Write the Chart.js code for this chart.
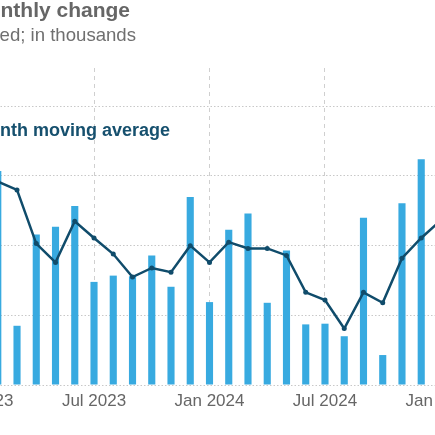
<!DOCTYPE html>
<html>
<head>
<meta charset="utf-8">
<script src="https://cdn.jsdelivr.net/npm/chart.js@4.4.1/dist/chart.umd.min.js"></script>
<style>
  html, body { margin:0; padding:0; background:#fff; overflow:hidden; width:435px; height:435px; }
  #wrap { position:absolute; left:-70px; top:0; width:580px; height:435px; }
  .txt { position:absolute; white-space:nowrap; font-family:"Liberation Sans", Arial, sans-serif; transform:translateX(-100%); }
  #title { left:130px; top:-1px; font-size:21px; line-height:21px; font-weight:bold; color:#666; }
  #subtitle { left:136px; top:26px; font-size:18.6px; line-height:18.6px; color:#6f6f6f; }
  #legend { left:170px; top:121px; font-size:18px; line-height:18px; font-weight:bold; color:#16506e; }
</style>
</head>
<body>
<div id="wrap"><canvas id="c" width="580" height="435" style="width:580px;height:435px"></canvas></div>
<div class="txt" id="title">Payrolls: monthly change</div>
<div class="txt" id="subtitle">Seasonally adjusted; in thousands</div>
<div class="txt" id="legend">3-month moving average</div>
<script>
const months = ["Jan 2023","Feb 2023","Mar 2023","Apr 2023","May 2023","Jun 2023","Jul 2023","Aug 2023","Sep 2023","Oct 2023","Nov 2023","Dec 2023",
                "Jan 2024","Feb 2024","Mar 2024","Apr 2024","May 2024","Jun 2024","Jul 2024","Aug 2024","Sep 2024","Oct 2024","Nov 2024","Dec 2024",
                "Jan 2025"];
const monthlyChange = [448,307,85,216,227,257,148,157,156,186,141,270,
                       119,223,246,118,193,87,88,70,240,43,261,324,
                       123];
const movingAverage = [290,292,280,203,176,235,211,188,155,168,162,200,
                       176,205,196,196,186,133,122,81,133,118,182,211,
                       236];
const yTicks = [0,100,200,300,400];
const shownLabels = ["Jan","Jul"];

const isShown = (lbl) => shownLabels.some(p => lbl.startsWith(p));

const chart = new Chart(document.getElementById('c'), {
  data: {
    labels: months,
    datasets: [
      { type:'line', label:'3-month moving average', data: movingAverage, order:0,
        borderColor:'#104c6b', backgroundColor:'#104c6b', borderWidth:2.5,
        pointRadius:2.5, pointHoverRadius:2.5, pointBackgroundColor:'#104c6b', pointBorderWidth:0, tension:0 },
      { type:'bar', label:'Monthly change', data: monthlyChange, order:1,
        backgroundColor:'#38aae0', borderWidth:0, categoryPercentage:1, barPercentage:0.37 }
    ]
  },
  options: {
    responsive:false, animation:false, devicePixelRatio:1,
    layout:{ padding:{ left:38.9, right:59.9, top:68, bottom:17.6 } },
    plugins:{ legend:{ display:false }, tooltip:{ enabled:false }, title:{ display:false } },
    scales:{
      x:{
        type:'category', offset:true,
        border:{ display:false, dash:[4,4] },
        grid:{ offset:false, drawTicks:false, lineWidth:1,
               color:(ctx)=> (ctx.tick && isShown(months[ctx.tick.value] || '')) ? '#cfcfcf' : 'rgba(0,0,0,0)' },
        ticks:{ autoSkip:false, maxRotation:0, minRotation:0, padding:6, color:'#666',
                font:{ family:'"Liberation Sans", Arial, sans-serif', size:17 },
                callback:(v,i)=> isShown(months[i]) ? months[i] : '' }
      },
      y:{
        min:0, max:455,
        border:{ display:false, dash:[1.5,2] },
        afterBuildTicks:(axis)=>{ axis.ticks = yTicks.map(v=>({value:v})); },
        grid:{ drawTicks:false, color:'#c8c8c8', lineWidth:1 },
        ticks:{ display:false }
      }
    }
  }
});
</script>
</body>
</html>
